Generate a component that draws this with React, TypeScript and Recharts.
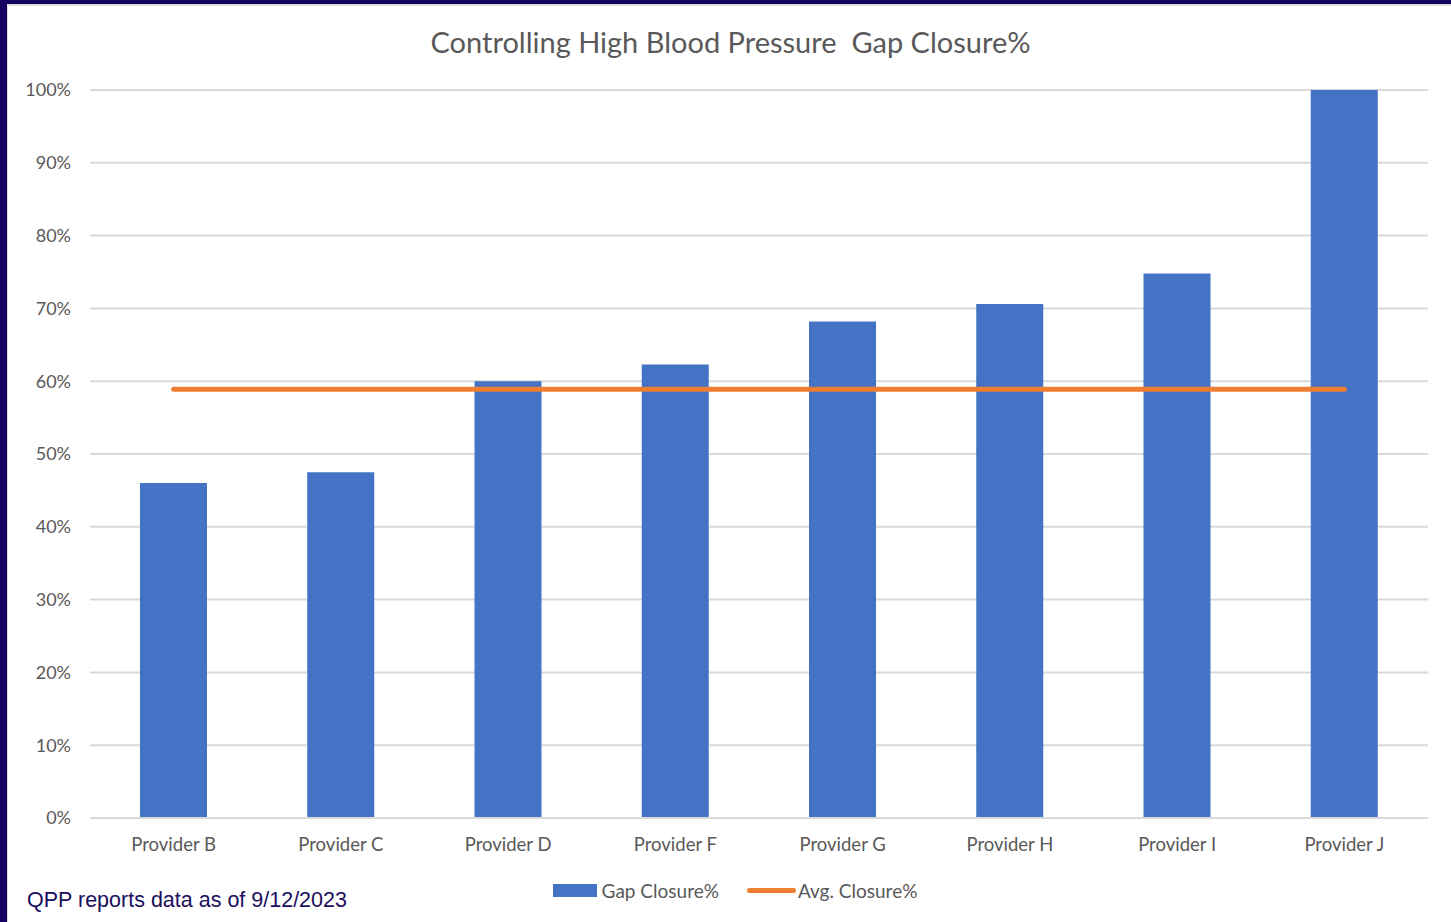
import { ComposedChart, Bar, Line, XAxis, YAxis, CartesianGrid, Legend } from "recharts";

const providers = ["Provider B", "Provider C", "Provider D", "Provider F", "Provider G", "Provider H", "Provider I", "Provider J"];
const gapClosure = [0.46, 0.475, 0.6, 0.623, 0.682, 0.706, 0.748, 1.0];
const avgClosure = [0.589, 0.589, 0.589, 0.589, 0.589, 0.589, 0.589, 0.589];
const yTicks = [0, 0.1, 0.2, 0.3, 0.4, 0.5, 0.6, 0.7, 0.8, 0.9, 1.0];

const data = providers.map((name, i) => ({ name, gap: gapClosure[i], avg: avgClosure[i] }));

const BLUE = "#4472C4";
const ORANGE = "#ED7D31";
const TEXT = "#595959";
const NAVY = "#14005e";
const FONT = "Lato, 'Open Sans', sans-serif";

function LegendContent() {
  return (
    <div style={{ display: "flex", justifyContent: "center", alignItems: "center", paddingLeft: 42, fontFamily: FONT, fontSize: 19, color: TEXT }}>
      <span style={{ display: "inline-block", width: 44, height: 13, background: BLUE, marginRight: 5 }} />
      <span style={{ marginRight: 28 }}>Gap Closure%</span>
      <span style={{ display: "inline-block", width: 49, height: 5, borderRadius: 3, background: ORANGE, marginRight: 2 }} />
      <span>Avg. Closure%</span>
    </div>
  );
}

export default function App() {
  return (
    <div style={{ position: "absolute", left: 0, top: 0, width: 1451, height: 922, background: "#fff", overflow: "hidden" }}>
      <ComposedChart
        width={1451}
        height={922}
        data={data}
        margin={{ top: 90, right: 23, left: 0, bottom: 51 }}
        style={{ fontFamily: FONT }}
      >
        <CartesianGrid vertical={false} stroke="#d9d9d9" strokeWidth={2} />
        <XAxis
          dataKey="name"
          axisLine={{ stroke: "#d9d9d9", strokeWidth: 2 }}
          tickLine={false}
          tickSize={0}
          tickMargin={20}
          tick={{ fill: TEXT, fontSize: 18.5 }}
          interval={0}
        />
        <YAxis
          width={90}
          domain={[0, 1]}
          ticks={yTicks}
          axisLine={false}
          tickLine={false}
          tickSize={0}
          tickMargin={19}
          tick={{ fill: TEXT, fontSize: 18 }}
          tickFormatter={(v: number) => `${Math.round(v * 100)}%`}
        />
        <Legend verticalAlign="bottom" wrapperStyle={{ bottom: 20 }} content={<LegendContent />} />
        <Bar dataKey="gap" name="Gap Closure%" fill={BLUE} barSize={67} isAnimationActive={false} />
        <Line
          dataKey="avg"
          name="Avg. Closure%"
          type="linear"
          stroke={ORANGE}
          strokeWidth={5}
          strokeLinecap="round"
          dot={false}
          activeDot={false}
          isAnimationActive={false}
        />
      </ComposedChart>
      <div
        style={{
          position: "absolute",
          left: 0,
          right: 0,
          top: 24,
          textAlign: "center",
          paddingLeft: 10,
          fontFamily: FONT,
          fontSize: 29,
          color: TEXT,
          whiteSpace: "pre",
        }}
      >
        {"Controlling High Blood Pressure  Gap Closure%"}
      </div>
      <div
        style={{
          position: "absolute",
          left: 27,
          top: 888,
          fontFamily: "'Liberation Sans', Arial, sans-serif",
          fontSize: 21.5,
          color: "#1a0f5e",
        }}
      >
        QPP reports data as of 9/12/2023
      </div>
      <div style={{ position: "absolute", left: 0, top: 0, width: 1451, height: 4, background: NAVY }} />
      <div style={{ position: "absolute", left: 0, top: 4, width: 1451, height: 2, background: "#dcdcdc" }} />
      <div style={{ position: "absolute", left: 0, top: 0, width: 7, height: 922, background: NAVY }} />
      <div style={{ position: "absolute", left: 7, top: 4, width: 1, height: 918, background: "#dcdcdc" }} />
    </div>
  );
}
